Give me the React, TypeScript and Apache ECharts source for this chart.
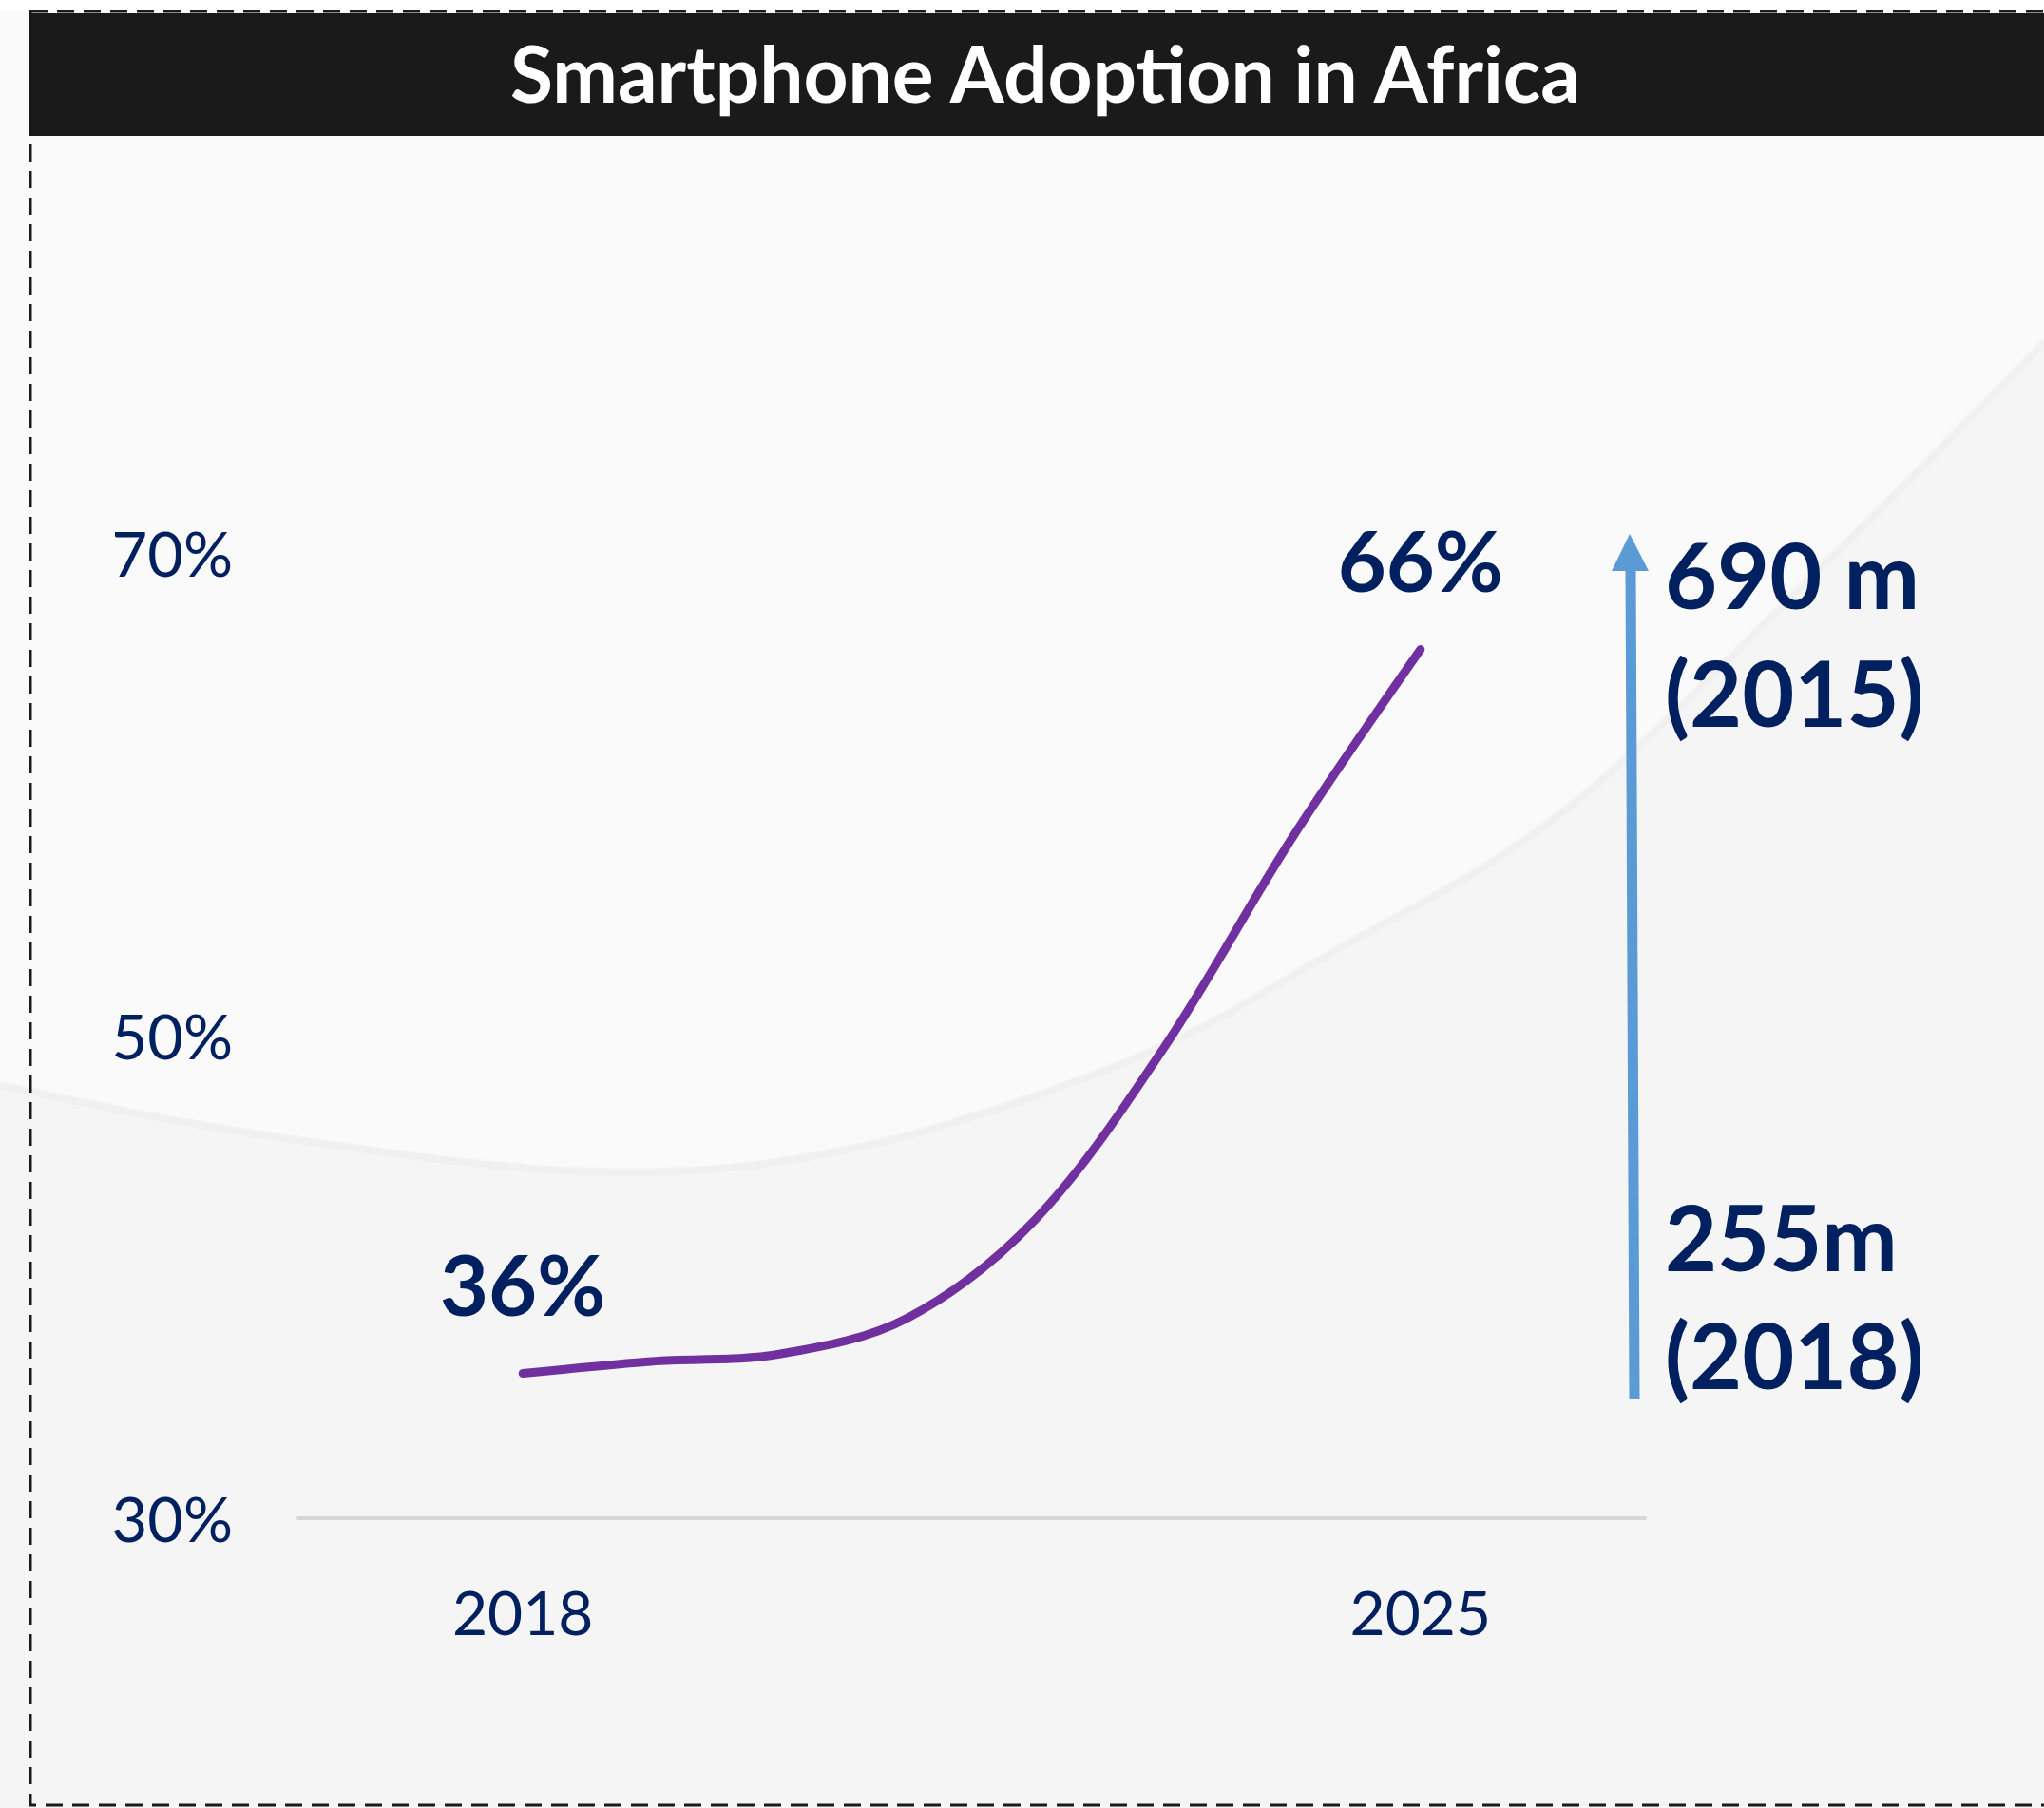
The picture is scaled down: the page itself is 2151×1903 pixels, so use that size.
import React, { useEffect, useRef } from "react";
import * as echarts from "echarts";

// ---- data ----
const years = [2018, 2019, 2020, 2021, 2022, 2023, 2024, 2025];
const adoption = [36, 36.5, 36.8, 38.3, 42.4, 49.5, 58.2, 66];
const pointLabels = ["36%", "", "", "", "", "", "", "66%"];
const xLabelYears = [2018, 2025];
const yMin = 30;
const yMax = 70;
const yStep = 20;
const titleText = "Smartphone Adoption in Africa";
const arrowTopLabel = ["690 m", "(2015)"];
const arrowBottomLabel = ["255m", "(2018)"];

const W = 2151;
const H = 1903;
const NAVY = "#002060";
const FONT = "Lato";

// decorative background swoosh guide points (pixels)
const swoosh: number[][] = [
  [0, 1139],
  [268, 1190],
  [625, 1230],
  [900, 1205],
  [1193, 1111],
  [1400, 1000],
  [1646, 850],
  [1920, 590],
  [2151, 357],
];

function catmull(pts: number[][], steps: number): number[][] {
  const out: number[][] = [];
  for (let i = 0; i < pts.length - 1; i++) {
    const p0 = pts[Math.max(0, i - 1)];
    const p1 = pts[i];
    const p2 = pts[i + 1];
    const p3 = pts[Math.min(pts.length - 1, i + 2)];
    for (let s = 0; s < steps; s++) {
      const t = s / steps;
      const t2 = t * t;
      const t3 = t2 * t;
      const f = (a: number, b: number, c: number, d: number) =>
        0.5 * (2 * b + (-a + c) * t + (2 * a - 5 * b + 4 * c - d) * t2 + (-a + 3 * b - 3 * c + d) * t3);
      out.push([f(p0[0], p1[0], p2[0], p3[0]), f(p0[1], p1[1], p2[1], p3[1])]);
    }
  }
  out.push(pts[pts.length - 1]);
  return out;
}

export default function App() {
  const ref = useRef<HTMLDivElement>(null);

  useEffect(() => {
    document.body.style.margin = "0";
    const chart = echarts.init(ref.current!, null, { renderer: "svg" });

    const seriesData = years.map((y, i) => ({
      value: [y, adoption[i]],
      label: { show: pointLabels[i] !== "" },
    }));

    const arc = catmull(swoosh, 12);
    const grayRegion = [...arc, [W, H], [0, H]];

    const option: any = {
      animation: false,
      backgroundColor: "#ffffff",
      grid: { left: 314, right: W - 1731, top: 582, bottom: H - 1598 },
      xAxis: {
        type: "value",
        min: 2016.25,
        max: 2026.75,
        axisLine: { show: true, lineStyle: { color: "#d6d6d6", width: 4 } },
        axisTick: { show: false },
        splitLine: { show: false },
        axisLabel: {
          customValues: xLabelYears,
          formatter: (v: number) => String(v),
          fontFamily: FONT,
          fontSize: 64,
          color: NAVY,
          margin: 66,
        },
      },
      yAxis: {
        type: "value",
        min: yMin,
        max: yMax,
        interval: yStep,
        axisLine: { show: false },
        axisTick: { show: false },
        splitLine: { show: false },
        axisLabel: {
          formatter: "{value}%",
          fontFamily: FONT,
          fontSize: 65,
          color: NAVY,
          margin: 69,
        },
      },
      series: [
        {
          type: "line",
          data: seriesData,
          smooth: 0.34,
          symbol: "circle",
          symbolSize: 1,
          showSymbol: true,
          itemStyle: { color: "rgba(0,0,0,0)" },
          lineStyle: { color: "#7030a0", width: 9, cap: "round", join: "round" },
          label: {
            show: false,
            position: "top",
            distance: 50,
            formatter: (p: any) => pointLabels[p.dataIndex],
            fontFamily: FONT,
            fontSize: 88,
            fontWeight: "bold",
            color: NAVY,
          },
          z: 5,
        },
      ],
      graphic: [
        {
          type: "rect",
          z: -100,
          shape: { x: 0, y: 12, width: W, height: H },
          style: { fill: "#fafafa" },
        },
        {
          type: "polygon",
          z: -99,
          shape: { points: grayRegion },
          style: { fill: "#f5f5f5" },
        },
        {
          type: "polyline",
          z: -98,
          shape: { points: arc.map((p) => [p[0], p[1] + 3]) },
          style: { stroke: "rgba(0,0,0,0.018)", lineWidth: 9, fill: "none" },
        },
        {
          type: "rect",
          z: 1,
          shape: { x: 31, y: 14, width: W, height: 129 },
          style: { fill: "#1a1a1a" },
        },
        {
          type: "rect",
          z: 2,
          shape: { x: 32, y: 12, width: W + 100, height: 1888 },
          style: { fill: "none", stroke: "#1a1a1a", lineWidth: 3, lineDash: [18, 10] },
        },
        {
          type: "text",
          z: 3,
          x: 1100,
          y: 76,
          style: {
            text: titleText,
            fill: "#ffffff",
            fontFamily: FONT,
            fontWeight: "bold",
            fontSize: 82,
            align: "center",
            verticalAlign: "middle",
          },
        },
        {
          type: "line",
          z: 3,
          shape: { x1: 1720, y1: 1472, x2: 1716, y2: 596 },
          style: { stroke: "#5b9bd5", lineWidth: 11 },
        },
        {
          type: "polygon",
          z: 3,
          shape: { points: [[1715, 562], [1696, 601], [1735, 601]] },
          style: { fill: "#5b9bd5" },
        },
        {
          type: "text",
          z: 3,
          x: 1752,
          y: 666,
          style: {
            text: arrowTopLabel.join("\n"),
            fill: NAVY,
            fontFamily: FONT,
            fontWeight: "bold",
            fontSize: 95,
            lineHeight: 124,
            align: "left",
            verticalAlign: "middle",
          },
        },
        {
          type: "text",
          z: 3,
          x: 1752,
          y: 1363,
          style: {
            text: arrowBottomLabel.join("\n"),
            fill: NAVY,
            fontFamily: FONT,
            fontWeight: "bold",
            fontSize: 95,
            lineHeight: 124,
            align: "left",
            verticalAlign: "middle",
          },
        },
      ],
    };

    chart.setOption(option);
    return () => chart.dispose();
  }, []);

  return (
    <div
      ref={ref}
      style={{ position: "fixed", left: 0, top: 0, width: W, height: H }}
    />
  );
}
